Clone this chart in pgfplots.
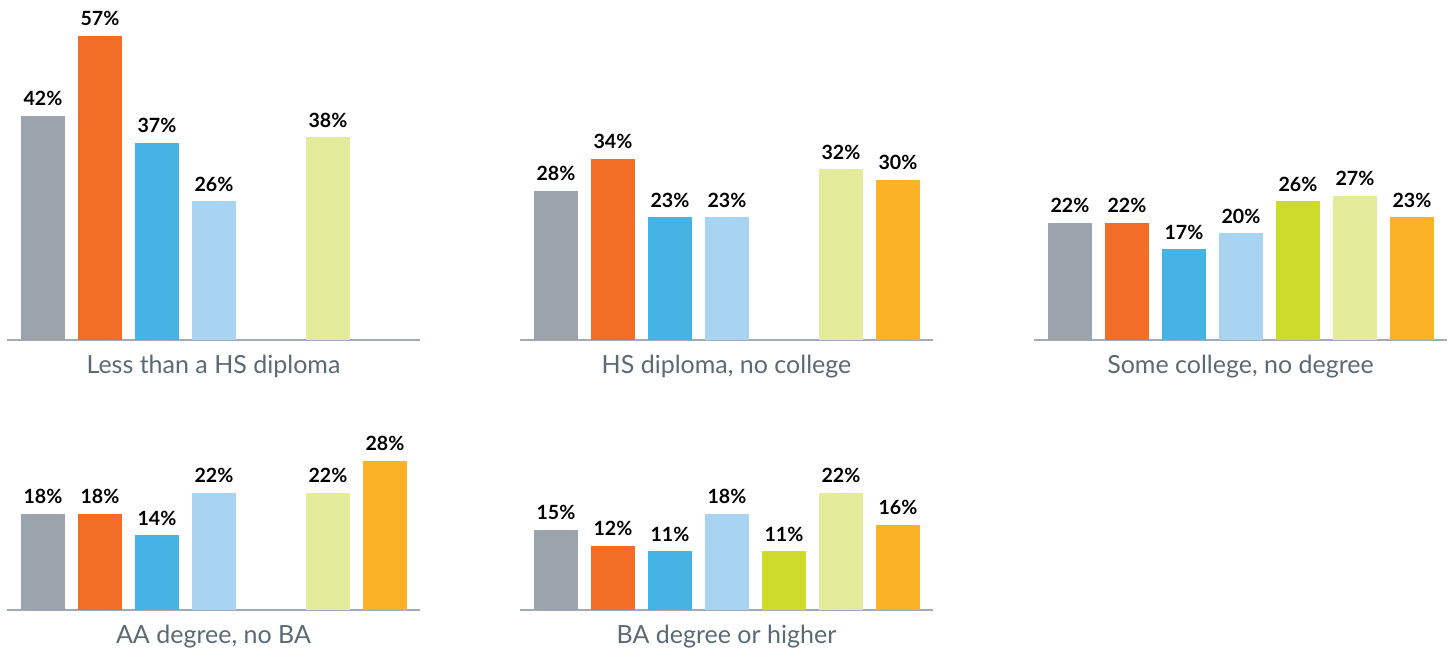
\documentclass[border=0pt]{standalone}
\usepackage{pgfplots}
\pgfplotsset{compat=1.18}
\usepackage{fontspec}
\setmainfont{Lato}

\definecolor{cgray}{HTML}{9BA4AD}
\definecolor{corange}{HTML}{F26D26}
\definecolor{cblue}{HTML}{45B3E3}
\definecolor{clblue}{HTML}{A8D4F1}
\definecolor{clime}{HTML}{CDDC2A}
\definecolor{cyellow}{HTML}{E4EB9B}
\definecolor{camber}{HTML}{FBB227}
\definecolor{axisgray}{HTML}{A0ABB6}
\definecolor{titlegray}{HTML}{5B6977}

% 1 px of the reference = 0.5pt
\pgfplotsset{
  panel/.style={
    scale only axis, width=206.5pt, height=160pt,
    anchor=south west,
    xmin=-0.6316, xmax=6.614, ymin=0, ymax=60,
    hide y axis, axis x line*=bottom, xtick=\empty,
    x axis line style={draw=axisgray, line width=1pt, -},
    ybar, bar width=22pt, bar shift=0pt,
    clip=false,
    /pgf/number format/assume math mode=true,
    every axis plot/.append style={draw=none},
    nodes near coords={\pgfmathprintnumber{\pgfplotspointmeta}\%},
    every node near coord/.append style={font=\fontsize{9.8}{11}\selectfont\bfseries,
      text=black, anchor=base, inner sep=0pt, yshift=5pt},
  },
}
\newcommand{\onebar}[3]{\addplot[fill=#1] coordinates {(#2,#3)};}
\newcommand{\paneltitle}[1]{\node[font=\fontsize{12.5}{14}\selectfont, text=titlegray,
  anchor=base, inner sep=0pt] at (rel axis cs:0.5,0) [yshift=-16.8pt] {#1};}

\begin{document}
\begin{tikzpicture}
\useasboundingbox (0,0) rectangle (724pt,325.5pt);

% Less than a HS diploma
\begin{axis}[panel, at={(3.5pt,155.5pt)}]
\onebar{cgray}{0}{42}
\onebar{corange}{1}{57}
\onebar{cblue}{2}{37}
\onebar{clblue}{3}{26}
\onebar{cyellow}{5}{38}
\paneltitle{Less than a HS diploma}
\end{axis}

% HS diploma, no college
\begin{axis}[panel, at={(260pt,155.5pt)}]
\onebar{cgray}{0}{28}
\onebar{corange}{1}{34}
\onebar{cblue}{2}{23}
\onebar{clblue}{3}{23}
\onebar{cyellow}{5}{32}
\onebar{camber}{6}{30}
\paneltitle{HS diploma, no college}
\end{axis}

% Some college, no degree
\begin{axis}[panel, at={(517pt,155.5pt)}]
\onebar{cgray}{0}{22}
\onebar{corange}{1}{22}
\onebar{cblue}{2}{17}
\onebar{clblue}{3}{20}
\onebar{clime}{4}{26}
\onebar{cyellow}{5}{27}
\onebar{camber}{6}{23}
\paneltitle{Some college, no degree}
\end{axis}

% AA degree, no BA
\begin{axis}[panel, at={(3.5pt,20.5pt)}]
\onebar{cgray}{0}{18}
\onebar{corange}{1}{18}
\onebar{cblue}{2}{14}
\onebar{clblue}{3}{22}
\onebar{cyellow}{5}{22}
\onebar{camber}{6}{28}
\paneltitle{AA degree, no BA}
\end{axis}

% BA degree or higher
\begin{axis}[panel, at={(260pt,20.5pt)}]
\onebar{cgray}{0}{15}
\onebar{corange}{1}{12}
\onebar{cblue}{2}{11}
\onebar{clblue}{3}{18}
\onebar{clime}{4}{11}
\onebar{cyellow}{5}{22}
\onebar{camber}{6}{16}
\paneltitle{BA degree or higher}
\end{axis}
\end{tikzpicture}
\end{document}
